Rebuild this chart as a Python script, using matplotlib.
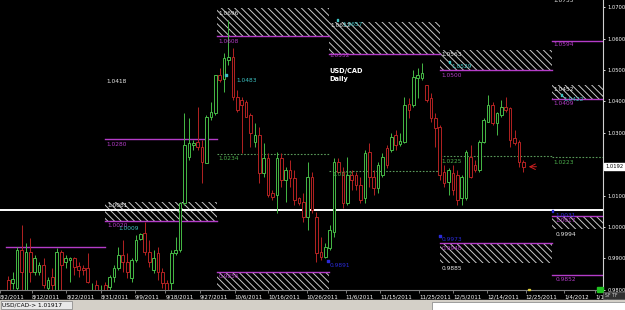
import numpy as np
import matplotlib.pyplot as plt
from matplotlib.patches import Rectangle

# USD/CAD daily candles, Aug - Dec 2011
opens = [0.9831, 0.9822, 0.9806, 0.9927, 0.9799, 0.9920, 0.9857, 0.9857, 0.9879, 0.9806,
         0.9841, 0.9799, 0.9920, 0.9889, 0.9895, 0.9901, 0.9876, 0.9869, 0.9869, 0.9783,
         0.9815, 0.9777, 0.9815, 0.9809, 0.9841, 0.9869, 0.9911, 0.9889, 0.9838, 0.9895,
         0.9962, 0.9981, 0.9920, 0.9863, 0.9917, 0.9857, 0.9822, 0.9822, 0.9917, 0.9927,
         1.0076, 1.0223, 1.0261, 1.0271, 1.0255, 1.0204, 1.0350, 1.0363, 1.0484, 1.0471,
         1.0532, 1.0541, 1.0414, 1.0405, 1.0398, 1.0357, 1.0271, 1.0293, 1.0172, 1.0220,
         1.0108, 1.0102, 1.0220, 1.0150, 1.0182, 1.0156, 1.0092, 1.0080, 1.0032, 1.0159,
         1.0032, 0.9920, 0.9904, 0.9933, 0.9984, 1.0207, 1.0175, 1.0076, 1.0166, 1.0166,
         1.0134, 1.0092, 1.0239, 1.0159, 1.0124, 1.0166, 1.0252, 1.0245, 1.0293, 1.0264,
         1.0271, 1.0392, 1.0389, 1.0475, 1.0475, 1.0452, 1.0411, 1.0347, 1.0318, 1.0175,
         1.0143, 1.0172, 1.0166, 1.0092, 1.0092, 1.0223, 1.0197, 1.0182, 1.0271, 1.0334,
         1.0389, 1.0331, 1.0357, 1.0382, 1.0379, 1.0283, 1.0271, 1.0207]
highs = [0.9844, 0.9857, 0.9936, 1.0006, 0.9949, 0.9965, 0.9911, 0.9889, 0.9901, 0.9841,
         0.9869, 0.9933, 0.9927, 0.9911, 0.9905, 0.9905, 0.9889, 0.9879, 0.9917, 0.9822,
         0.9831, 0.9815, 0.9825, 0.9847, 0.9879, 0.9936, 0.9959, 0.9917, 0.9901, 0.9975,
         0.9981, 1.0016, 0.9959, 0.9927, 0.9936, 0.9869, 0.9831, 0.9927, 0.9968, 1.0080,
         1.0363, 1.0347, 1.0277, 1.0382, 1.0277, 1.0357, 1.0398, 1.0484, 1.0506, 1.0554,
         1.0659, 1.0570, 1.0436, 1.0414, 1.0405, 1.0363, 1.0331, 1.0318, 1.0268, 1.0236,
         1.0118, 1.0239, 1.0236, 1.0191, 1.0213, 1.0182, 1.0096, 1.0108, 1.0207, 1.0175,
         1.0048, 0.9968, 0.9949, 1.0006, 1.0220, 1.0220, 1.0191, 1.0223, 1.0182, 1.0175,
         1.0159, 1.0245, 1.0268, 1.0182, 1.0207, 1.0236, 1.0261, 1.0299, 1.0309, 1.0299,
         1.0414, 1.0411, 1.0500, 1.0506, 1.0522, 1.0452, 1.0427, 1.0363, 1.0325, 1.0197,
         1.0188, 1.0197, 1.0182, 1.0166, 1.0245, 1.0261, 1.0213, 1.0277, 1.0347, 1.0420,
         1.0398, 1.0366, 1.0405, 1.0414, 1.0382, 1.0309, 1.0277, 1.0213]
lows = [0.9780, 0.9803, 0.9799, 0.9793, 0.9793, 0.9825, 0.9847, 0.9847, 0.9806, 0.9799,
        0.9793, 0.9797, 0.9799, 0.9869, 0.9825, 0.9847, 0.9841, 0.9847, 0.9822, 0.9780,
        0.9768, 0.9768, 0.9768, 0.9777, 0.9825, 0.9863, 0.9857, 0.9838, 0.9825, 0.9889,
        0.9959, 0.9911, 0.9873, 0.9854, 0.9831, 0.9806, 0.9774, 0.9799, 0.9911, 0.9920,
        1.0070, 1.0213, 1.0245, 1.0245, 1.0140, 1.0204, 1.0341, 1.0357, 1.0462, 1.0430,
        1.0516, 1.0405, 1.0366, 1.0236, 1.0350, 1.0255, 1.0255, 1.0140, 1.0159, 1.0096,
        1.0086, 1.0045, 1.0127, 1.0080, 1.0127, 1.0070, 1.0070, 1.0016, 0.9990, 1.0045,
        0.9889, 0.9895, 0.9901, 0.9927, 0.9968, 1.0172, 1.0061, 1.0070, 1.0118, 1.0118,
        1.0076, 1.0076, 1.0127, 1.0102, 1.0108, 1.0159, 1.0188, 1.0239, 1.0245, 1.0258,
        1.0268, 1.0347, 1.0382, 1.0411, 1.0468, 1.0398, 1.0334, 1.0255, 1.0150, 1.0127,
        1.0102, 1.0102, 1.0070, 1.0070, 1.0086, 1.0156, 1.0175, 1.0175, 1.0268, 1.0334,
        1.0325, 1.0293, 1.0350, 1.0366, 1.0255, 1.0261, 1.0191, 1.0175]
closes = [0.9793, 0.9834, 0.9927, 0.9857, 0.9920, 0.9857, 0.9901, 0.9879, 0.9815, 0.9831,
          0.9815, 0.9920, 0.9879, 0.9901, 0.9901, 0.9873, 0.9863, 0.9863, 0.9825, 0.9799,
          0.9780, 0.9799, 0.9790, 0.9841, 0.9869, 0.9911, 0.9889, 0.9857, 0.9895, 0.9959,
          0.9978, 0.9920, 0.9889, 0.9901, 0.9857, 0.9822, 0.9790, 0.9917, 0.9927, 1.0076,
          1.0261, 1.0268, 1.0268, 1.0255, 1.0207, 1.0350, 1.0366, 1.0484, 1.0468, 1.0538,
          1.0541, 1.0414, 1.0373, 1.0389, 1.0350, 1.0299, 1.0293, 1.0172, 1.0220, 1.0102,
          1.0096, 1.0220, 1.0150, 1.0182, 1.0156, 1.0086, 1.0076, 1.0032, 1.0159, 1.0054,
          0.9917, 0.9904, 0.9936, 0.9990, 1.0207, 1.0175, 1.0076, 1.0166, 1.0150, 1.0134,
          1.0086, 1.0236, 1.0159, 1.0124, 1.0197, 1.0223, 1.0197, 1.0287, 1.0261, 1.0274,
          1.0389, 1.0373, 1.0478, 1.0484, 1.0490, 1.0405, 1.0347, 1.0315, 1.0166, 1.0140,
          1.0182, 1.0118, 1.0086, 1.0159, 1.0239, 1.0159, 1.0182, 1.0271, 1.0341, 1.0389,
          1.0331, 1.0363, 1.0382, 1.0373, 1.0277, 1.0268, 1.0207, 1.0191]

date_labels = ['8/2/2011', '8/12/2011', '8/22/2011', '8/31/2011', '9/9/2011', '9/18/2011',
               '9/27/2011', '10/6/2011', '10/16/2011', '10/26/2011', '11/6/2011', '11/15/2011',
               '11/25/2011', '12/5/2011', '12/14/2011', '12/25/2011', '1/4/2012', '1/13/2012']
date_pos = [-1.9, 5.3, 13.2, 21.0, 28.7, 35.7, 43.5, 51.4, 59.1, 67.8, 76.6, 84.5,
            93.3, 101.1, 108.8, 117.5, 126.3, 133.3]

price_ticks = [0.98, 0.99, 1.00, 1.01, 1.02, 1.03, 1.04, 1.05, 1.06, 1.07]

# hatched zones (bar from, bar to, top, bottom, kind)
zone_x0 = [21.9, 47.4, 47.4, 72.8, 98.0, 98.0, 123.6, 123.6]
zone_x1 = [47.4, 72.8, 72.8, 98.0, 123.6, 123.6, 135.2, 135.2]
zone_top = [1.0081, 1.0696, 0.9856, 1.0652, 1.0563, 0.9948, 1.0452, 1.0035]
zone_bot = [1.0020, 1.0608, 0.9790, 1.0552, 1.0500, 0.9885, 1.0409, 0.9994]
zone_kind = ['sup', 'sup', 'dem', 'sup', 'sup', 'dem', 'sup', 'dem']

# single purple levels
lvl_x0 = [-0.6, 21.9, 123.6, 123.6]
lvl_x1 = [21.9, 47.4, 135.2, 135.2]
lvl_y = [0.9936, 1.0280, 1.0594, 0.9847]

# green dotted levels
mid_x0 = [47.4, 72.8, 98.0, 123.6]
mid_x1 = [72.8, 98.0, 123.6, 135.2]
mid_y = [1.0234, 1.0177, 1.0225, 1.0223]

# level labels: x, y, text, colour
lab_x = [22.2, 22.2, 22.6, 22.6, 24.9, 47.8, 47.8, 51.9, 47.8, 47.8,
         73.2, 76.0, 73.0, 73.7, 73.0, 98.4, 100.7, 98.4, 98.4, 98.4,
         98.4, 98.4, 123.8, 123.8, 126.1, 123.8, 123.8, 124.3, 124.3, 124.3,
         124.3, 123.8]
lab_y = [1.0462, 1.0264, 1.0068, 1.0005, 0.9994, 1.0680, 1.0591, 1.0467, 1.0218, 0.9842,
         1.0643, 1.0646, 1.0546, 1.0166, 0.9876, 1.0549, 1.0510, 1.0484, 1.0209, 0.9959,
         0.9932, 0.9869, 1.0580, 1.0438, 1.0406, 1.0392, 1.0207, 1.0038, 1.0021, 0.9976,
         0.9833, 1.0720]
lab_txt = ['1.0418', '1.0280', '1.0081', '1.0020', '1.0009', '1.0696', '1.0608', '1.0483',
           '1.0234', '0.9856', '1.0652', '1.0657', '1.0552', '1.0177', '0.9891', '1.0563',
           '1.0529', '1.0500', '1.0225', '0.9973', '0.9948', '0.9885', '1.0594', '1.0452',
           '1.0422', '1.0409', '1.0223', '1.0031', '1.0017', '0.9994', '0.9852', '1.0755']
lab_col = ['w', 'p', 'w', 'p', 't', 'w', 'p', 't', 'g', 'p',
           'w', 't', 'p', 'g', 'b', 'w', 't', 'p', 'g', 'b',
           'p', 'w', 'p', 'w', 't', 'p', 'g', 'b', 'p', 'w',
           'p', 'w']

dot_x = [49.4, 74.8, 72.6, 100.2, 98.0, 125.7, 123.6]
dot_y = [1.0484, 1.0659, 0.9892, 1.0526, 0.9971, 1.0420, 1.0051]
dot_col = ['t', 't', 'b', 't', 'b', 't', 'b']

last_price = 1.0192
white_level = 1.0054

cmap = {'w': '#e8e8e8', 'p': '#b43cc8', 't': '#3cc0c0', 'g': '#4caf4c', 'b': '#2a2ad8'}
up_col = '#46b946'
dn_col = '#b42323'

fig = plt.figure(figsize=(6.25, 3.1), dpi=100, facecolor='black')
ax = fig.add_axes([0, 20 / 310, 603 / 625, 290 / 310])
ax.set_facecolor('black')

# zones
plt.rcParams['hatch.linewidth'] = 0.7
for x0, x1, t, b, k in zip(zone_x0, zone_x1, zone_top, zone_bot, zone_kind):
    ax.add_patch(Rectangle((x0, b), x1 - x0, t - b, facecolor='black',
                           edgecolor='#c8c8c8', hatch='\\\\\\\\\\', lw=0, zorder=1))
    edge = b if k == 'sup' else t
    ax.plot([x0, x1], [edge, edge], color=cmap['p'], lw=1.0, zorder=2)

for x0, x1, y in zip(lvl_x0, lvl_x1, lvl_y):
    ax.plot([x0, x1], [y, y], color=cmap['p'], lw=1.0, zorder=2)
for x0, x1, y in zip(mid_x0, mid_x1, mid_y):
    ax.plot([x0, x1], [y, y], color='#5a9a5a', lw=0.8, ls=(0, (1.5, 1.5)), zorder=2)

ax.axhline(white_level, color='white', lw=1.4, zorder=4)

# candles
x = np.arange(len(opens))
o = np.array(opens)
c = np.array(closes)
cols = [up_col if cc >= oo else dn_col for oo, cc in zip(o, c)]
ax.vlines(x, lows, highs, colors=cols, lw=0.7, zorder=5)
body = np.maximum(np.abs(c - o), 0.0002)
ax.bar(x, body, bottom=np.minimum(o, c), width=0.6, facecolor='black',
       edgecolor=cols, lw=0.7, zorder=6)

for xx, yy, s, k in zip(lab_x, lab_y, lab_txt, lab_col):
    ax.text(xx, yy, s, color=cmap[k], fontsize=4.2, va='center', ha='left',
            zorder=7, clip_on=True)
ax.scatter(dot_x, dot_y, s=1.5, c=[cmap[k] for k in dot_col], marker='s', zorder=7)

ax.text(73.0, 1.0497, 'USD/CAD', color='white', fontsize=4.8, fontweight='bold', va='center')
ax.text(73.0, 1.0471, 'Daily', color='white', fontsize=4.8, fontweight='bold', va='center')

# arrow at last price
ax.annotate('', xy=(117.6, last_price), xytext=(120.6, last_price),
            arrowprops=dict(arrowstyle='->', color='#d02020', lw=0.7), zorder=7)

ax.set_xlim(-0.56, 135.1)
ax.set_ylim(0.97994, 1.0723)

ax.yaxis.tick_right()
ax.set_yticks(price_ticks)
# the 1.0200 label sits under the current-price tag
ax.set_yticklabels(['' if abs(v - 1.02) < 1e-9 else '%.4f' % v for v in price_ticks])
ax.tick_params(axis='y', colors='white', labelsize=3.7, length=1.5, pad=1.5, width=0.6)
ax.set_xticks(date_pos)
ax.set_xticklabels(date_labels)
ax.tick_params(axis='x', colors='#909090', labelcolor='white', labelsize=4,
               length=2, pad=1.5, width=0.6)
for lbl in ax.get_xticklabels():
    lbl.set_ha('left')
for s in ['left', 'top']:
    ax.spines[s].set_visible(False)
ax.spines['right'].set_color('#d0d0d0')
ax.spines['right'].set_linewidth(0.8)
ax.spines['bottom'].set_color('#808080')
ax.spines['bottom'].set_linewidth(0.8)

# current price tag
ax.text(1.004, last_price, '%.4f' % last_price, transform=ax.get_yaxis_transform(),
        color='black', fontsize=3.7, va='center', ha='left', clip_on=False,
        bbox=dict(boxstyle='square,pad=0.2', fc='white', ec='white'))

# small markers near the time axis
ax.add_patch(Rectangle((118.0, 0.97994), 0.6, 0.0004, color='#e0d040', clip_on=False, zorder=8))
fig.add_artist(Rectangle((597 / 625, 18 / 310), 6 / 625, 5 / 310, color='#20c020',
                         transform=fig.transFigure))
fig.add_artist(Rectangle((603 / 625, 11 / 310), 22 / 625, 7 / 310, fc='#303030', ec='#808080',
                         lw=0.4, transform=fig.transFigure, zorder=5))
fig.text(605 / 625, 14.5 / 310, 'SF TF', color='#d0d0d0', fontsize=3.3, va='center', zorder=6)

# status bar
fig.add_artist(Rectangle((0, 0), 1, 10 / 310, color='#d4d0c8', transform=fig.transFigure))
fig.add_artist(Rectangle((1 / 625, 1 / 310), 71 / 625, 8 / 310, fc='#e8e8e8', ec='#808080',
                         lw=0.5, transform=fig.transFigure))
fig.add_artist(Rectangle((432 / 625, 0), 193 / 625, 8 / 310, fc='white', ec='#808080',
                         lw=0.5, transform=fig.transFigure))
fig.text(2 / 625, 5 / 310, 'USD/CAD-> 1.01917', color='black', fontsize=4.2, va='center')

fig.savefig('out.png', dpi=100, facecolor='black')
